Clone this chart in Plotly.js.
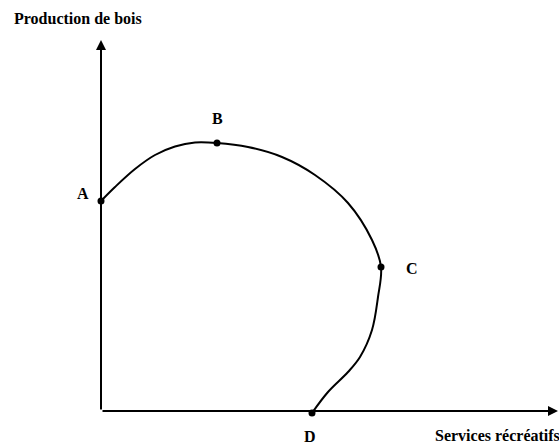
<!DOCTYPE html>
<html>
<head>
<meta charset="utf-8">
<script src="https://cdn.plot.ly/plotly-3.0.1.min.js"></script>
<style>html,body{margin:0;padding:0;background:#fff;}#chart{width:559px;height:445px;}</style>
</head>
<body>
<div id="chart"></div>
<script>
// Curve (Services récréatifs, Production de bois)
const curveX = [0, 14, 34, 54, 74, 94, 116, 147, 181, 214, 247, 271, 280, 277, 271, 259, 247, 227, 211];
const curveY = [210, 224, 242, 256, 264.5, 268.5, 268, 264, 254, 236, 208, 171, 144, 114, 81, 54, 39, 19, -2];
// Named points
const pointNames = ["A", "B", "C", "D"];
const pointX = [0, 116, 280, 211];
const pointY = [210, 268, 144, -2];
// Label positions for the points
const labelX = [-18, 116, 311, 209];
const labelY = [218, 293, 143, -25];
// Axis extents
const axisMaxX = 457;
const axisMaxY = 371;
const xTitle = "Services récréatifs";
const yTitle = "Production de bois";

const font = {family: "Liberation Serif, Times New Roman, serif", size: 16, color: "#000"};

const traces = [
  {x: curveX, y: curveY, mode: "lines", line: {color: "#000", width: 2, shape: "spline", smoothing: 1}, hoverinfo: "skip"},
  {x: pointX, y: pointY, mode: "markers", marker: {color: "#000", size: 7}, hoverinfo: "skip"}
];

const annotations = [
  {x: 0, y: axisMaxY, ax: 0, ay: 0, xref: "x", yref: "y", axref: "x", ayref: "y", text: "", showarrow: true, arrowhead: 2, arrowsize: 1, arrowwidth: 2, arrowcolor: "#000"},
  {x: axisMaxX, y: 0, ax: 0, ay: 0, xref: "x", yref: "y", axref: "x", ayref: "y", text: "", showarrow: true, arrowhead: 2, arrowsize: 1, arrowwidth: 2, arrowcolor: "#000"},
  {x: -89, y: 393, xref: "x", yref: "y", text: "<b>" + yTitle + "</b>", showarrow: false, xanchor: "left", yanchor: "middle", font: font},
  {x: 332, y: -24, xref: "x", yref: "y", text: "<b>" + xTitle + "</b>", showarrow: false, xanchor: "left", yanchor: "middle", font: font}
];
pointNames.forEach((n, i) => {
  annotations.push({x: labelX[i], y: labelY[i], xref: "x", yref: "y", text: "<b>" + n + "</b>", showarrow: false, xanchor: "center", yanchor: "middle", font: font});
});

const layout = {
  width: 559, height: 445,
  margin: {l: 0, r: 0, t: 0, b: 0, pad: 0},
  paper_bgcolor: "#fff", plot_bgcolor: "#fff",
  showlegend: false,
  xaxis: {range: [-101, 458], visible: false, showgrid: false, zeroline: false, fixedrange: true},
  yaxis: {range: [-34, 411], visible: false, showgrid: false, zeroline: false, fixedrange: true},
  annotations: annotations
};

Plotly.newPlot("chart", traces, layout, {displayModeBar: false, staticPlot: true});
</script>
</body>
</html>
